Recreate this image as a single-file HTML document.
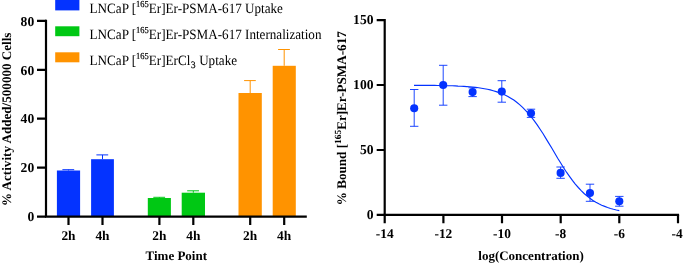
<!DOCTYPE html>
<html><head><meta charset="utf-8">
<style>
html,body{margin:0;padding:0;background:#fff;}
svg{display:block;will-change:transform;}
text{font-family:"Liberation Serif",serif;fill:#000;text-rendering:geometricPrecision;}
.b{font-weight:bold;}
</style></head><body>
<svg width="685" height="266" viewBox="0 0 685 266">
<rect width="685" height="266" fill="#fff"/>
<g id="left">
<rect x="55.2" y="0" width="24.2" height="10.4" fill="#0433ff"/>
<rect x="55.2" y="26.3" width="24.2" height="9.9" fill="#00c814"/>
<rect x="55.2" y="52.3" width="24.2" height="10" fill="#ff9300"/>
<g font-size="14.2">
<text transform="translate(89.6 12.6) scale(0.924 1)">LNCaP [<tspan font-size="9.2" dy="-6" stroke="#000" stroke-width="0.2">165</tspan><tspan dy="6">Er]Er-PSMA-617 Uptake</tspan></text>
<text transform="translate(89.6 38.9) scale(0.924 1)">LNCaP [<tspan font-size="9.2" dy="-6" stroke="#000" stroke-width="0.2">165</tspan><tspan dy="6">Er]Er-PSMA-617 Internalization</tspan></text>
<text transform="translate(89.6 64.9) scale(0.924 1)">LNCaP [<tspan font-size="9.2" dy="-6" stroke="#000" stroke-width="0.2">165</tspan><tspan dy="6">Er]ErCl</tspan><tspan font-size="9.8" dy="3.4" dx="0.8" stroke="#000" stroke-width="0.25">3</tspan><tspan dy="-3.4" dx="0.3"> Uptake</tspan></text>
</g>
<rect x="56.9" y="170.5" width="23.2" height="46.2" fill="#0433ff"/><path d="M68.5 170.5V169.7 M62.4 169.7H74.2" stroke="#0433ff" stroke-width="1" fill="none"/><rect x="91.1" y="159.2" width="22.8" height="57.5" fill="#0433ff"/><path d="M102.5 159.2V154.9 M96.4 154.9H108.2" stroke="#0433ff" stroke-width="1" fill="none"/><rect x="147.8" y="198.0" width="23.1" height="18.7" fill="#00c814"/><path d="M159.4 198.0V197.3 M153.3 197.3H165.1" stroke="#00c814" stroke-width="1" fill="none"/><rect x="181.7" y="192.7" width="23.3" height="24.0" fill="#00c814"/><path d="M193.3 192.7V190.8 M187.2 190.8H199.0" stroke="#00c814" stroke-width="1" fill="none"/><rect x="238.5" y="93.0" width="23.3" height="123.7" fill="#ff9300"/><path d="M250.2 93.0V80.6 M244.1 80.6H255.8" stroke="#ff9300" stroke-width="1" fill="none"/><rect x="272.7" y="65.8" width="23.1" height="150.9" fill="#ff9300"/><path d="M284.2 65.8V49.5 M278.1 49.5H289.9" stroke="#ff9300" stroke-width="1" fill="none"/>
<g stroke="#000" stroke-width="2.2" fill="none">
<path d="M46 19.7V216.7"/>
<path d="M44.9 216.7H306.8"/>
<path d="M37 216.7H46 M37 167.7H46 M37 118.7H46 M37 69.8H46 M37 20.8H46"/>
<path d="M68.5 216.7V225.0 M102.5 216.7V225.0 M159.4 216.7V225.0 M193.3 216.7V225.0 M250.2 216.7V225.0 M284.2 216.7V225.0 "/>
</g>
<g class="b" font-size="13.6" text-anchor="end"><text x="34.2" y="221.4">0</text><text x="34.2" y="172.4">20</text><text x="34.2" y="123.4">40</text><text x="34.2" y="74.5">60</text><text x="34.2" y="25.5">80</text></g>
<g class="b" font-size="13.4" text-anchor="middle"><text x="68.5" y="239.7">2h</text><text x="102.5" y="239.7">4h</text><text x="159.4" y="239.7">2h</text><text x="193.3" y="239.7">4h</text><text x="250.2" y="239.7">2h</text><text x="284.2" y="239.7">4h</text></g>
<text class="b" font-size="13" text-anchor="middle" x="176.3" y="259.8">Time Point</text>
<text class="b" font-size="13.1" text-anchor="middle" transform="translate(11.3 119.3) rotate(-90)">% Activity Added/500000 Cells</text>
</g>
<g id="right">
<g stroke="#0433ff" fill="none">
<path d="M414.0 85.3 L417.0 85.3 L419.9 85.3 L422.8 85.3 L425.8 85.3 L428.7 85.4 L431.6 85.4 L434.6 85.4 L437.5 85.5 L440.4 85.5 L443.4 85.6 L446.3 85.7 L449.2 85.7 L452.2 85.8 L455.1 85.9 L458.0 86.1 L461.0 86.2 L463.9 86.4 L466.8 86.6 L469.8 86.8 L472.7 87.1 L475.6 87.4 L478.6 87.8 L481.5 88.2 L484.4 88.7 L487.4 89.3 L490.3 89.9 L493.2 90.7 L496.2 91.6 L499.1 92.6 L502.0 93.7 L505.0 95.0 L507.9 96.5 L510.8 98.2 L513.8 100.1 L516.7 102.2 L519.6 104.6 L522.6 107.3 L525.5 110.3 L528.4 113.5 L531.3 117.0 L534.3 120.9 L537.2 124.9 L540.1 129.3 L543.1 133.8 L546.0 138.6 L548.9 143.4 L551.9 148.3 L554.8 153.3 L557.7 158.2 L560.7 163.0 L563.6 167.7 L566.5 172.2 L569.5 176.4 L572.4 180.4 L575.3 184.1 L578.3 187.5 L581.2 190.6 L584.1 193.5 L587.1 196.0 L590.0 198.3 L592.9 200.4 L595.9 202.2 L598.8 203.8 L601.7 205.2 L604.7 206.4 L607.6 207.5 L610.5 208.5 L613.5 209.3 L616.4 210.0 L619.3 210.6" stroke-width="1.15"/>
<path d="M414.2 89.5V126.3 M410.0 89.5H418.4 M410.0 126.3H418.4 M443.2 65.3V105.2 M439.0 65.3H447.4 M439.0 105.2H447.4 M472.6 87.8V96.6 M468.4 87.8H476.8 M468.4 96.6H476.8 M501.8 80.7V102.2 M497.6 80.7H506.0 M497.6 102.2H506.0 M531.0 109.2V117.4 M526.8 109.2H535.2 M526.8 117.4H535.2 M560.6 167.0V178.3 M556.4 167.0H564.8 M556.4 178.3H564.8 M590.0 184.2V201.3 M585.8 184.2H594.2 M585.8 201.3H594.2 M619.3 196.4V206.2 M615.1 196.4H623.5 M615.1 206.2H623.5 " stroke-width="0.9"/>
</g>
<g fill="#0433ff"><circle cx="414.2" cy="108.2" r="4.05"/><circle cx="443.2" cy="85.0" r="4.05"/><circle cx="472.6" cy="92.1" r="4.05"/><circle cx="501.8" cy="91.6" r="4.05"/><circle cx="531.0" cy="113.3" r="4.05"/><circle cx="560.6" cy="172.9" r="4.05"/><circle cx="590.0" cy="193.0" r="4.05"/><circle cx="619.3" cy="201.3" r="4.05"/></g>
<g stroke="#000" stroke-width="2.2" fill="none">
<path d="M384.7 19.0V214.9"/>
<path d="M383.59999999999997 214.9H679.1"/>
<path d="M376.7 214.9H384.7 M376.7 150.0H384.7 M376.7 85.0H384.7 M376.7 20.1H384.7"/>
<path d="M384.7 214.9V223.3 M443.4 214.9V223.3 M502.0 214.9V223.3 M560.7 214.9V223.3 M619.3 214.9V223.3 M678.0 214.9V223.3"/>
</g>
<g class="b" font-size="13.6" text-anchor="end"><text x="373.5" y="219.2">0</text><text x="373.5" y="154.3">50</text><text x="373.5" y="89.3">100</text><text x="373.5" y="24.4">150</text></g>
<g class="b" font-size="13.4" text-anchor="middle"><text x="384.7" y="238.2">-14</text><text x="443.4" y="238.2">-12</text><text x="502.0" y="238.2">-10</text><text x="560.7" y="238.2">-8</text><text x="619.3" y="238.2">-6</text><text x="677.1" y="238.2">-4</text></g>
<text class="b" font-size="13" text-anchor="middle" x="531" y="259.6">log(Concentration)</text>
<text class="b" font-size="13.13" text-anchor="middle" transform="translate(346.3 118.2) rotate(-90)">% Bound [<tspan font-size="9.4" dy="-5.5">165</tspan><tspan dy="5.5">Er]Er-PSMA-617</tspan></text>
</g>
</svg>
</body></html>
